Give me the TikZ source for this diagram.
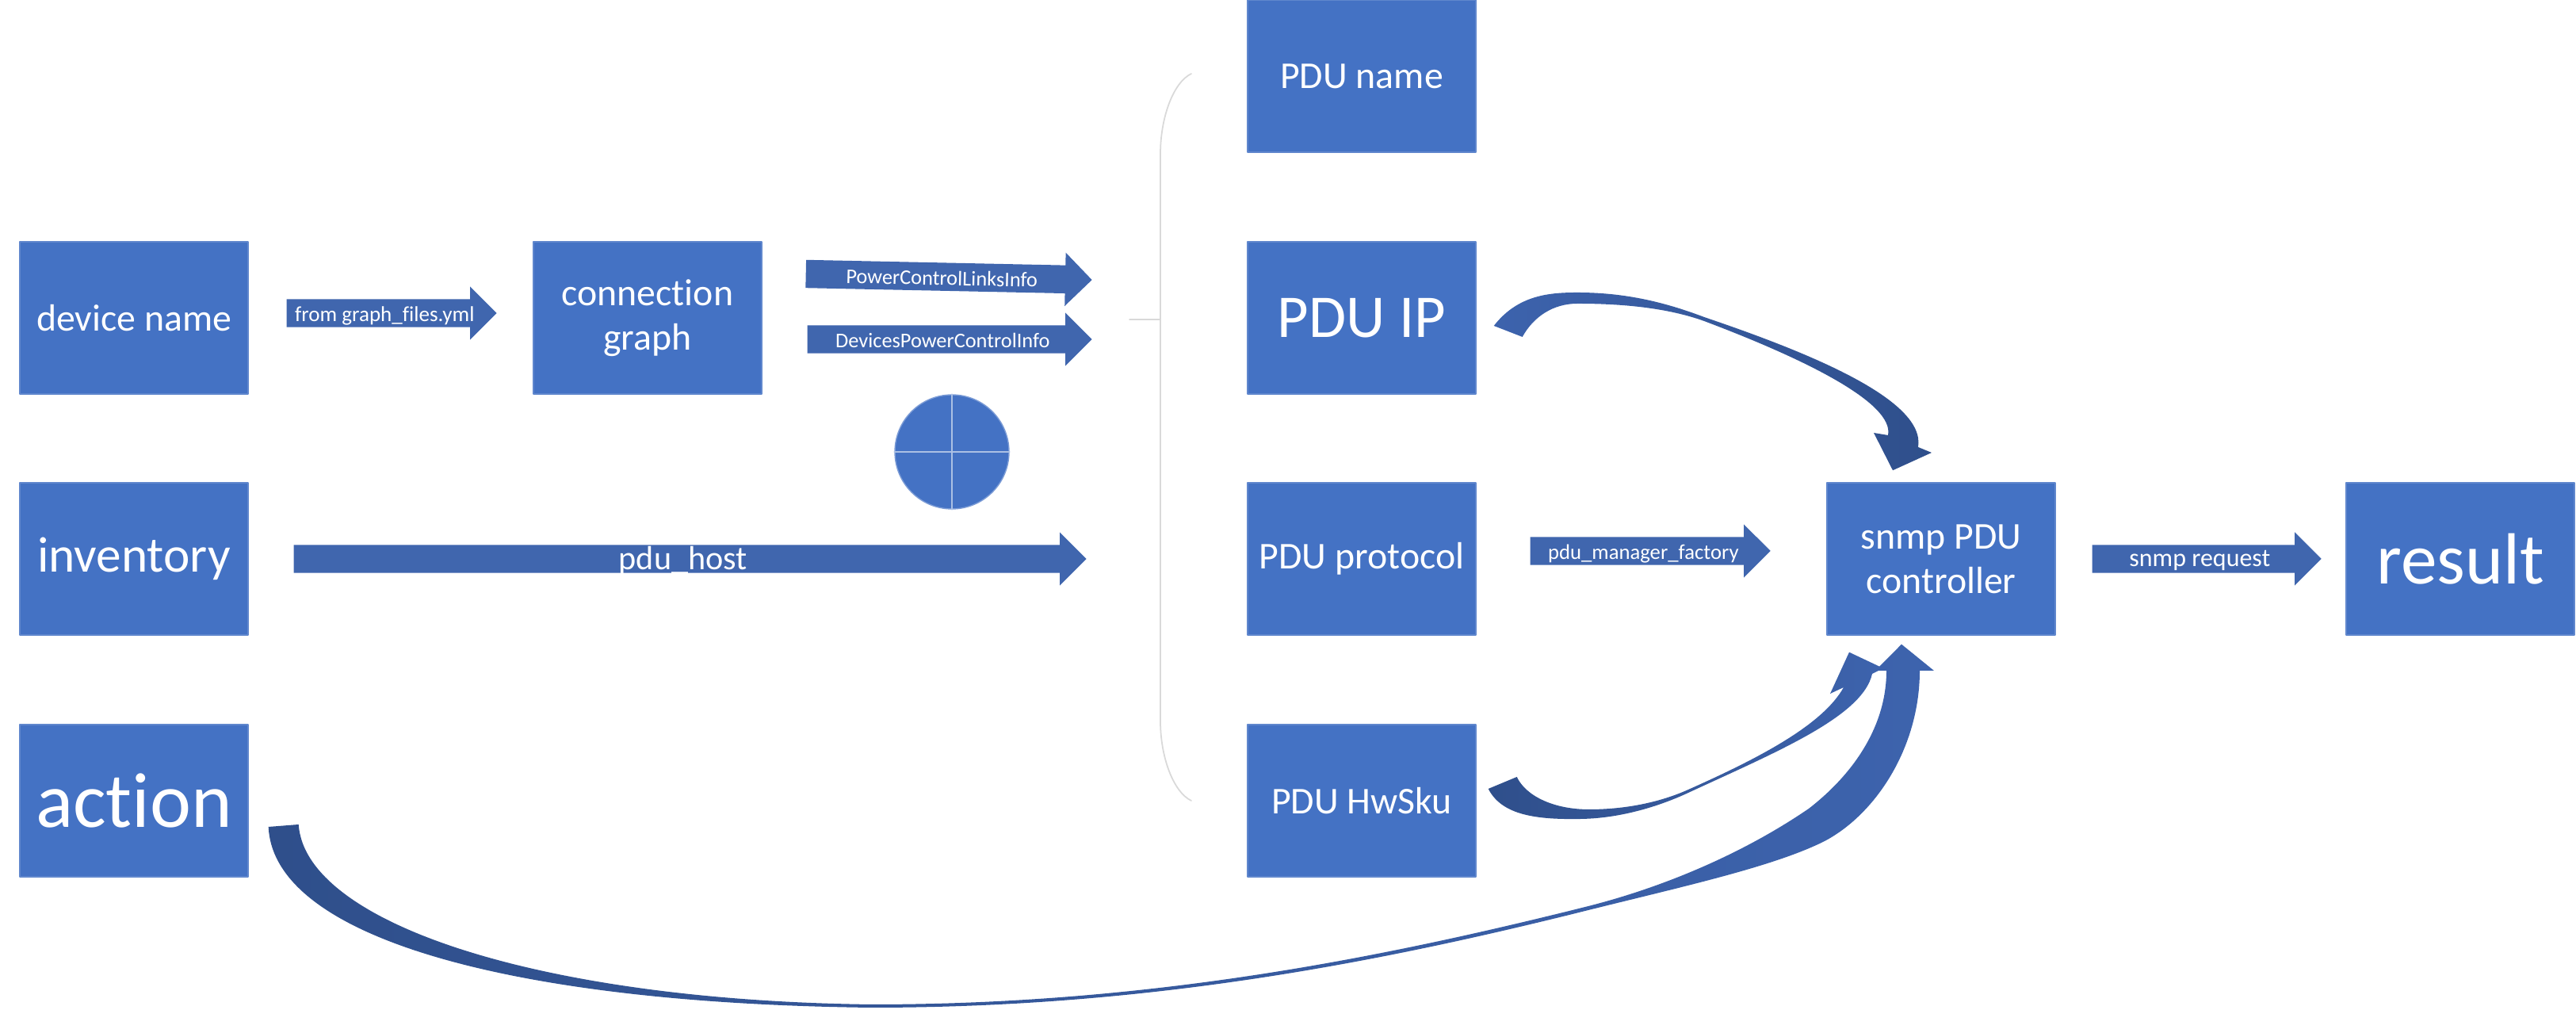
\documentclass[tikz,border=0pt]{standalone}
\usepackage{fontspec}
\setmainfont{Carlito}[Ligatures={NoCommon,NoRare}]
\usetikzlibrary{shapes.arrows,calc}

\definecolor{boxblue}{HTML}{4472C4}
\definecolor{arrowblue}{HTML}{4066AE}
\definecolor{bendlight}{HTML}{3D63AD}
\definecolor{benddark}{HTML}{2F4F8B}
\definecolor{bracegray}{HTML}{D9D9D9}

\begin{document}
\begin{tikzpicture}[line join=round, line cap=round,
		box/.style={fill=boxblue, draw=boxblue!85!white, line width=0.4pt, text=white, minimum width=2.88cm, minimum height=1.92cm, inner sep=0pt, align=center},
		flow/.style={single arrow, single arrow head extend=0.16cm, single arrow tip angle=90, fill=arrowblue, text=white, anchor=tail, inner xsep=0pt, inner ysep=0.015cm, text height=0.26cm, text depth=0.05cm},
		bendlr/.style={left color=benddark, right color=bendlight},
		bendrl/.style={left color=bendlight, right color=benddark}]
		
		\useasboundingbox (0,0) rectangle (32.5,12.74);
		
		% boxes
		\node[box, font=\fontsize{13.6}{16}\selectfont] (device) at (1.69,8.73) {device name};
		\node[box, font=\fontsize{18}{21}\selectfont] (inventory) at (1.69,5.69) {inventory};
		\node[box, font=\fontsize{28}{33}\selectfont] (action) at (1.69,2.64) {action};
		\node[box, font=\fontsize{13.6}{16}\selectfont] (graph) at (8.17,8.73) {connection\\graph};
		
		\node[box, font=\fontsize{13.6}{16}\selectfont] (pduname) at (17.18,11.78) {PDU name};
		\node[box, font=\fontsize{21.8}{26}\selectfont] (pduip) at (17.18,8.73) {PDU IP};
		\node[box, font=\fontsize{13.6}{16}\selectfont] (pduproto) at (17.18,5.69) {PDU protocol};
		\node[box, font=\fontsize{13.6}{16}\selectfont] (pduhwsku) at (17.18,2.64) {PDU HwSku};
		
		\node[box, font=\fontsize{13.6}{16}\selectfont] (snmpctl) at (24.49,5.69) {snmp PDU\\controller};
		\node[box, font=\fontsize{26}{31}\selectfont] (result) at (31.04,5.69) {result};
		
		% block arrows
		\node[flow, minimum height=2.65cm, font=\fontsize{7.7}{9}\selectfont] (yml) at (3.61,8.79) {from graph\_files.yml};
		\node[flow, minimum height=3.61cm, rotate=-1.2, font=\fontsize{7.5}{9}\selectfont] (links) at (10.16,9.285) {PowerControlLinksInfo};
		\node[flow, minimum height=3.59cm, font=\fontsize{7.5}{9}\selectfont] (devinfo) at (10.18,8.46) {DevicesPowerControlInfo};
		\node[flow, minimum height=10cm, inner ysep=0pt, text height=0.31cm, text depth=0.03cm, font=\fontsize{12}{14}\selectfont] (host) at (3.70,5.69) {pdu\_host};
		\node[flow, minimum height=3.03cm, font=\fontsize{7.6}{9}\selectfont] (factory) at (19.30,5.79) {pdu\_manager\_factory};
		\node[flow, minimum height=2.89cm, inner ysep=0.02cm, text height=0.25cm, font=\fontsize{9.1}{11}\selectfont] (request) at (26.39,5.69) {snmp request};
		
		% hub
		\node[circle, fill=boxblue, draw=boxblue!70!white, line width=0.4pt, minimum size=1.44cm, inner sep=0pt] (hub) at (12.01,7.04) {};
		\draw[boxblue!45!white, line width=0.5pt] (hub.north) -- (hub.south) (hub.west) -- (hub.east);
		
		% bracket
		\draw[bracegray, line width=0.5pt] (15.03,11.81) .. controls (14.80,11.70) and (14.64,11.25) .. (14.64,10.80) -- (14.64,3.64) .. controls (14.64,3.20) and (14.80,2.75) .. (15.03,2.64);
		\draw[bracegray, line width=0.5pt] (14.25,8.71) -- (14.64,8.71);
		
		% curved arrows
		\coordinate (ipTo) at ($(pduip.east)+(0.22,-0.10)$);
		\coordinate (ipTi) at ($(pduip.east)+(0.58,-0.24)$);
		\coordinate (ipTip) at ($(snmpctl.north)+(-0.61,0.15)$);
		\shade[bendrl] (ipTo) .. controls (19.15,9.02) and (19.55,9.05) .. (19.9,9.05) .. controls (20.5,9.05) and (21.0,8.93) .. (21.5,8.74) .. controls (22.8,8.3) and (24.3,7.7) .. (24.20,7.10) -- (24.37,7.03) -- (ipTip) -- (23.64,7.28) -- (23.82,7.25) .. controls (23.9,7.65) and (22.8,8.2) .. (21.5,8.69) .. controls (21.0,8.87) and (20.4,8.91) .. (19.9,8.91) .. controls (19.6,8.91) and (19.35,8.75) .. (ipTi) -- cycle;
		
		\coordinate (hwTo) at ($(pduhwsku.east)+(0.15,0.15)$);
		\coordinate (hwTi) at ($(pduhwsku.east)+(0.51,0.30)$);
		\coordinate (hwTip) at ($(snmpctl.south)+(-1.16,-0.21)$);
		\shade[bendlr] (hwTo) .. controls (18.95,2.45) and (19.4,2.40) .. (19.95,2.41) .. controls (20.5,2.42) and (21.0,2.6) .. (21.3,2.74) .. controls (22.4,3.25) and (23.5,3.7) .. (23.62,4.24) -- (23.76,4.31) -- (hwTip) -- (23.09,3.99) -- (23.26,4.07) .. controls (23.0,3.6) and (22.2,3.18) .. (21.3,2.78) .. controls (20.9,2.60) and (20.45,2.53) .. (20.05,2.53) .. controls (19.6,2.53) and (19.25,2.7) .. (hwTi) -- cycle;
		
		\coordinate (actTo) at ($(action.east)+(0.25,-0.33)$);
		\coordinate (actTi) at ($(action.east)+(0.63,-0.30)$);
		\coordinate (actTip) at ($(snmpctl.south)+(-0.50,-0.11)$);
		\shade[bendlr] (actTo) .. controls (3.45,0.9) and (6.5,0.08) .. (11.0,0.03) .. controls (14.5,0.03) and (17.4,0.6) .. (20.0,1.25) .. controls (21.2,1.55) and (22.35,1.8) .. (23.0,2.12) .. controls (23.65,2.45) and (24.22,3.3) .. (24.22,4.28) -- (24.40,4.28) -- (actTip) -- (23.66,4.28) -- (23.80,4.28) .. controls (23.8,3.55) and (23.35,2.95) .. (22.82,2.54) .. controls (22.0,1.98) and (21.0,1.55) .. (20.0,1.30) .. controls (17.4,0.65) and (14.5,0.07) .. (11.0,0.07) .. controls (6.8,0.12) and (3.85,1.1) .. (actTi) -- cycle;
		
	\end{tikzpicture}
\end{document}
